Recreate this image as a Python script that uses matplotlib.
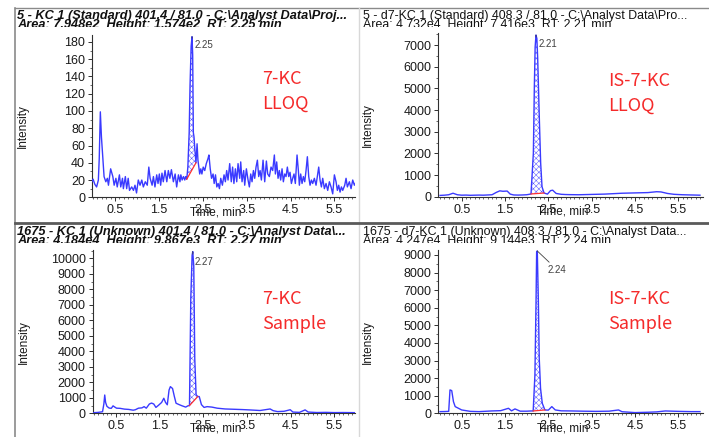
import numpy as np
import matplotlib
matplotlib.use("Agg")
import matplotlib.pyplot as plt
from matplotlib.lines import Line2D
from matplotlib.transforms import Bbox, TransformedBbox
from matplotlib.ticker import FixedLocator, MultipleLocator

plt.rcParams["font.family"] = ["Liberation Sans", "DejaVu Sans"]
plt.rcParams["hatch.linewidth"] = 0.35

W, H = 709, 437
BLUE = "#3a3aff"
RED_TXT = "#f52a2a"

# ---- 7-KC LLOQ (top left) ----
tl_time = [-0.03, 0.00, 0.04, 0.08, 0.12, 0.14, 0.165, 0.19, 0.22, 0.25, 0.29, 0.325, 0.35, 0.40,
           0.45, 0.48, 0.52, 0.55, 0.60, 0.63, 0.67, 0.69, 0.735, 0.765, 0.80, 0.83, 0.88, 0.92,
           0.955, 0.99, 1.03, 1.07, 1.11, 1.145, 1.19, 1.235, 1.27, 1.30, 1.345, 1.375, 1.41,
           1.45, 1.48, 1.51, 1.54, 1.57, 1.60, 1.64, 1.68, 1.715, 1.75, 1.785, 1.83, 1.87, 1.905,
           1.945, 1.98, 2.00, 2.03, 2.06, 2.09, 2.11,
           2.135, 2.16, 2.19, 2.21, 2.235, 2.255, 2.27, 2.285, 2.30, 2.32, 2.345,
           2.37, 2.39, 2.43, 2.455, 2.48, 2.51, 2.545, 2.58, 2.62, 2.64, 2.67, 2.70, 2.735, 2.76,
           2.79, 2.82, 2.85, 2.88, 2.91, 2.947, 2.985, 3.015, 3.045, 3.076, 3.114, 3.15, 3.18,
           3.21, 3.243, 3.274, 3.304, 3.342, 3.365, 3.395, 3.433, 3.456, 3.494, 3.532, 3.562,
           3.593, 3.623, 3.654, 3.684, 3.714, 3.745, 3.775, 3.806, 3.836, 3.874, 3.912, 3.95,
           3.98, 4.018, 4.056, 4.094, 4.132, 4.155, 4.185, 4.216, 4.246, 4.276, 4.307, 4.337,
           4.368, 4.398, 4.428, 4.459, 4.489, 4.52, 4.55, 4.58, 4.61, 4.649, 4.679, 4.702, 4.732,
           4.763, 4.793, 4.824, 4.854, 4.884, 4.915, 4.945, 4.976, 5.006, 5.044, 5.082, 5.112,
           5.143, 5.173, 5.204, 5.234, 5.272, 5.31, 5.348, 5.386, 5.424, 5.462, 5.50, 5.538,
           5.568, 5.599, 5.629, 5.66, 5.69, 5.736, 5.766, 5.796, 5.842, 5.88, 5.918, 5.956, 5.994]
tl_int = [18, 21, 15, 12, 20, 45, 99, 70, 47, 24, 18, 22, 14, 33,
          24, 14, 22, 12, 26, 12, 22, 10, 24, 10, 22, 8, 12, 8,
          14, 5, 20, 14, 20, 12, 18, 14, 35, 22, 14, 24, 12,
          26, 16, 27, 14, 28, 18, 31, 18, 31, 22, 32, 18, 27, 12,
          26, 18, 26, 20, 24, 20, 24,
          21, 35, 75, 130, 175, 186, 165, 75, 70, 55, 40,
          62, 43, 27, 33, 27, 35, 31, 39, 45, 49, 33, 22, 27, 16,
          26, 12, 16, 10, 22, 14, 26, 18, 31, 20, 39, 18, 35,
          16, 33, 18, 39, 22, 41, 18, 31, 14, 33, 20, 12,
          27, 18, 31, 22, 35, 43, 24, 31, 20, 43, 18, 42,
          27, 24, 35, 31, 49, 27, 41, 22, 31, 20, 33, 18,
          27, 24, 35, 24, 29, 16, 22, 27, 16, 49, 31, 14, 27,
          16, 24, 18, 31, 47, 24, 14, 20, 16, 22, 14, 24,
          35, 20, 12, 22, 10, 16, 8, 18, 12, 4, 26, 18,
          8, 14, 6, 12, 8, 14, 22, 12, 18, 10, 20, 14, 18]

# ---- IS-7-KC LLOQ (top right) ----
tr_time = [0.0, 0.1, 0.2, 0.3, 0.4, 0.5, 0.6, 0.7, 0.8, 0.9, 1.0, 1.1, 1.2, 1.3, 1.38, 1.45,
           1.55, 1.62, 1.7, 1.8, 1.9, 2.0, 2.1, 2.154, 2.177, 2.195, 2.215, 2.235, 2.254, 2.293,
           2.323, 2.354, 2.40, 2.48, 2.55, 2.6, 2.68, 2.8, 2.9, 3.0, 3.2, 3.4, 3.6, 3.8, 4.0,
           4.2, 4.4, 4.6, 4.8, 5.0, 5.1, 5.25, 5.4, 5.6, 5.8, 6.0]
tr_int = [60, 70, 90, 160, 90, 70, 75, 65, 70, 75, 70, 80, 90, 200, 270, 250,
          260, 120, 80, 75, 80, 90, 125, 2000, 5080, 6900, 7460, 7300, 6400, 3540,
          1550, 460, 170, 120, 280, 300, 150, 110, 100, 95, 90, 100, 110, 120, 140,
          160, 170, 180, 190, 230, 220, 150, 110, 90, 80, 70]

# ---- 7-KC Sample (bottom left) ----
bl_time = [0.0, 0.1, 0.2, 0.23, 0.25, 0.27, 0.30, 0.35, 0.40, 0.44, 0.47, 0.52, 0.6, 0.7, 0.8,
           0.9, 0.95, 1.02, 1.1, 1.15, 1.2, 1.27, 1.32, 1.37, 1.42, 1.48, 1.55, 1.6, 1.64, 1.68,
           1.72, 1.75, 1.8, 1.84, 1.88, 1.95, 2.02, 2.1, 2.15,
           2.187, 2.217, 2.247, 2.262, 2.285, 2.308, 2.338, 2.376,
           2.41, 2.46, 2.52, 2.59, 2.7, 2.82, 3.0, 3.2, 3.4, 3.58, 3.8, 4.03, 4.1, 4.2, 4.35,
           4.49, 4.55, 4.7, 4.83, 4.9, 5.1, 5.3, 5.5, 5.7, 6.0]
bl_int = [40, 60, 100, 600, 1180, 700, 450, 340, 320, 480, 420, 330, 320, 270, 250,
          200, 230, 330, 350, 430, 330, 600, 660, 600, 380, 520, 700, 970, 700, 550,
          1500, 1720, 1600, 1100, 650, 560, 480, 400, 480,
          500, 7400, 10200, 10430, 9500, 3500, 1200, 1080,
          1080, 560, 380, 430, 400, 330, 280, 260, 240, 215, 180, 280, 170, 110, 130,
          230, 80, 60, 220, 80, 50, 60, 45, 50, 40]

# ---- IS-7-KC Sample (bottom right) ----
br_time = [0.0, 0.1, 0.2, 0.23, 0.27, 0.31, 0.35, 0.5, 0.7, 0.9, 1.19, 1.4, 1.58, 1.65, 1.73,
           1.85, 2.0, 2.1, 2.15, 2.19, 2.215, 2.23, 2.245, 2.27, 2.29, 2.32, 2.36, 2.42,
           2.5, 2.58, 2.66, 2.8, 3.04, 3.3, 3.6, 3.9, 4.12, 4.2, 4.5, 4.8, 5.0, 5.2, 5.5, 5.8, 6.0]
br_int = [95, 100, 110, 1330, 1290, 660, 380, 190, 110, 95, 133, 150, 285, 140, 250,
          120, 120, 133, 133, 2180, 6160, 9190, 9230, 6350, 3130, 1420, 570, 190,
          180, 380, 190, 140, 133, 120, 110, 120, 190, 90, 40, 60, 80, 133, 110, 95, 95]

panels = [
    dict(t=tl_time, y=tl_int, box=(92, 35, 355, 197.3), xlim=(-0.025, 5.97), ylim=(0, 188),
         yt=range(0, 181, 20), ymin=10, peak=(2.135, 2.345), rt="2.25",
         rt_xy=(2.255, 186), rt_txt=(195, 45), curved=True,
         title=["5 - KC 1 (Standard) 401.4 / 81.0 - C:\\Analyst Data\\Proj...",
                "Area: 7.948e2  Height: 1.574e2  RT: 2.25 min"],
         tx=17, ty=10, italic=True, clip=27, label=["7-KC", "LLOQ"], lx=262, ly=70),
    dict(t=tr_time, y=tr_int, box=(438.3, 33, 703, 196.7), xlim=(-0.04, 6.07), ylim=(0, 7554),
         yt=range(0, 7001, 1000), ymin=500, peak=(2.10, 2.40), rt="2.21",
         rt_xy=(2.215, 7460), rt_txt=(539, 44), curved=True,
         title=["5 - d7-KC 1 (Standard) 408.3 / 81.0 - C:\\Analyst Data\\Pro...",
                "Area: 4.732e4  Height: 7.416e3  RT: 2.21 min"],
         tx=363, ty=10, italic=False, clip=27, label=["IS-7-KC", "LLOQ"], lx=608, ly=72),
    dict(t=bl_time, y=bl_int, box=(92.7, 250, 355, 413.3), xlim=(-0.025, 5.97), ylim=(0, 10535),
         yt=range(0, 10001, 1000), ymin=500, peak=(2.187, 2.376), rt="2.27",
         rt_xy=(2.262, 10430), rt_txt=(195, 262), curved=True,
         title=["1675 - KC 1 (Unknown) 401.4 / 81.0 - C:\\Analyst Data\\...",
                "Area: 4.184e4  Height: 9.867e3  RT: 2.27 min"],
         tx=17, ty=226, italic=True, clip=242.5, label=["7-KC", "Sample"], lx=262, ly=290),
    dict(t=br_time, y=br_int, box=(438.3, 250, 703, 413.3), xlim=(-0.04, 6.07), ylim=(0, 9284),
         yt=range(0, 9001, 1000), ymin=500, peak=(2.15, 2.42), rt="2.24",
         rt_xy=(2.245, 9230), rt_txt=(548, 270), curved=False,
         title=["1675 - d7-KC 1 (Unknown) 408.3 / 81.0 - C:\\Analyst Data...",
                "Area: 4.247e4  Height: 9.144e3  RT: 2.24 min"],
         tx=363, ty=226, italic=False, clip=242.5, label=["IS-7-KC", "Sample"], lx=608, ly=290),
]

fig = plt.figure(figsize=(W / 100, H / 100), dpi=100)
fig.patch.set_facecolor("white")


def fx(px):
    return px / W


def fy(py):
    return 1 - py / H


def frame_line(x0, y0, x1, y1, color, lw):
    fig.add_artist(Line2D([fx(x0), fx(x1)], [fy(y0), fy(y1)], transform=fig.transFigure,
                          color=color, lw=lw, zorder=10))


for p in panels:
    l, t, r, b = p["box"]
    ax = fig.add_axes([fx(l), fy(b), fx(r - l), (b - t) / H])
    ax.set_facecolor("none")
    tt = np.array(p["t"], dtype=float)
    yy = np.array(p["y"], dtype=float)
    ax.plot(tt, yy, color=BLUE, lw=1.0, zorder=3)

    # integrated peak: hatch between baseline and trace
    t0, t1 = p["peak"]
    y0 = np.interp(t0, tt, yy)
    y1 = np.interp(t1, tt, yy)
    m = (tt >= t0) & (tt <= t1)
    base = y0 + (tt[m] - t0) * (y1 - y0) / (t1 - t0)
    ax.fill_between(tt[m], base, yy[m], facecolor="none", edgecolor="#5555ff", hatch="xxxxxx",
                    lw=0, zorder=2)
    ax.plot([t0, t1], [y0, y1], color="#ff3030", lw=0.9, zorder=4)

    ax.set_xlim(*p["xlim"])
    ax.set_ylim(*p["ylim"])
    for s in ["top", "right"]:
        ax.spines[s].set_visible(False)
    for s in ["left", "bottom"]:
        ax.spines[s].set_color("#303030")
        ax.spines[s].set_linewidth(0.8)
    ax.xaxis.set_major_locator(FixedLocator([0.5, 1.5, 2.5, 3.5, 4.5, 5.5]))
    ax.xaxis.set_minor_locator(MultipleLocator(0.1))
    ax.yaxis.set_major_locator(FixedLocator(list(p["yt"])))
    ax.yaxis.set_minor_locator(MultipleLocator(p["ymin"]))
    ax.tick_params(which="major", length=3, width=0.7, color="#303030", labelsize=9,
                   labelcolor="#1a1a1a", pad=2)
    ax.tick_params(which="minor", length=1.5, width=0.5, color="#303030")
    ax.set_xticklabels(["0.5", "1.5", "2.5", "3.5", "4.5", "5.5"])

    # retention time label
    lx_pk, ly_pk = p["rt_xy"]
    txp, typ = p["rt_txt"]
    ax.annotate(p["rt"], xy=(lx_pk, ly_pk), xycoords="data",
                xytext=(fx(txp), fy(typ)), textcoords="figure fraction",
                fontsize=7, color="#404040", va="center", ha="left",
                arrowprops=dict(arrowstyle="-", color="#404040", lw=0.6, shrinkA=0, shrinkB=0,
                                connectionstyle="arc3,rad=-0.6" if p["curved"] else "arc3"))

    # axis titles
    cx = (l + r) / 2 - 8
    fig.text(fx(cx), fy(b + 9), "Time, min", ha="center", va="top", fontsize=8.5,
             color="#1a1a1a")
    fig.text(fx(l - 69 if l < 200 else l - 70), fy((t + b) / 2 + 10), "Intensity",
             rotation=90, ha="center", va="center", fontsize=8.5, color="#1a1a1a")

    # header lines
    style = "italic" if p["italic"] else "normal"
    weight = "bold" if p["italic"] else "normal"
    size = 9.2 if p["italic"] else 8.9
    for i, line in enumerate(p["title"]):
        txt = fig.text(fx(p["tx"]), fy(p["ty"] + i * 9), line, ha="left", va="top",
                       fontsize=size, fontstyle=style, fontweight=weight, color="#111111")
        clip_top = p["ty"] - 4
        bb = Bbox([[fx(p["tx"] - 5), fy(p["clip"])], [fx(p["tx"] + 345), fy(clip_top)]])
        txt.set_clip_box(TransformedBbox(bb, fig.transFigure))
        txt.set_clip_on(True)

    # red sample label
    for i, line in enumerate(p["label"]):
        fig.text(fx(p["lx"]), fy(p["ly"] + i * 25), line, ha="left", va="top",
                 fontsize=13, color=RED_TXT, family=["Noto Sans CJK SC", "DejaVu Sans"])

# panel frames
frame_line(15, 8, 709, 8, "#8a8a8a", 1.0)
frame_line(15, 8, 15, 437, "#8a8a8a", 1.2)
frame_line(359, 8, 359, 437, "#d8d8d8", 1.0)
frame_line(15, 223, 709, 223, "#5a5a5a", 2.0)

fig.savefig("out.png", dpi=100, facecolor="white")
